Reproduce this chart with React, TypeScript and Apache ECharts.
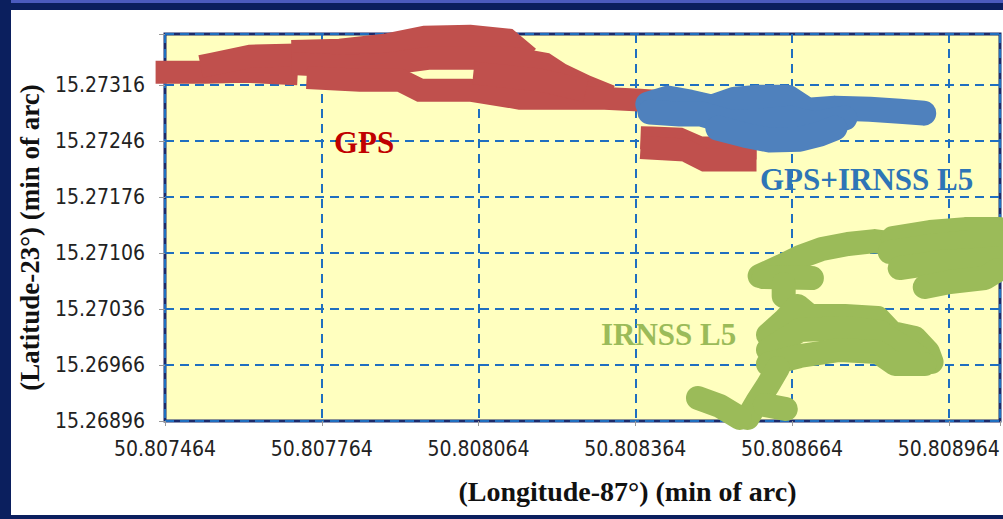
import React, { useEffect, useRef } from 'react';
import * as echarts from 'echarts';

const LON_BASE = 50.807464;
const LAT_BASE = 15.26896;

const xTickLabels = ['50.807464', '50.807764', '50.808064', '50.808364', '50.808664', '50.808964'];
const yTickLabels = ['15.26896', '15.26966', '15.27036', '15.27106', '15.27176', '15.27246', '15.27316'];

// GPS track passes [longitude-87° (min), latitude-23° (min)]
const gpsTrack1 = [[50.807468, 15.273323], [50.807541, 15.273323], [50.807617, 15.273335], [50.807696, 15.27331]];
const gpsTrack2 = [[50.807554, 15.273423], [50.807627, 15.273523], [50.807696, 15.273535]];
const gpsTrack3 = [[50.807728, 15.273585], [50.807799, 15.273598], [50.807885, 15.27366], [50.807961, 15.27376], [50.808048, 15.273773], [50.80812, 15.273723], [50.808143, 15.273598]];
const gpsTrack4 = [[50.807728, 15.273423], [50.807808, 15.273398], [50.807885, 15.273423], [50.807971, 15.273498], [50.808067, 15.273498], [50.808128, 15.273498], [50.808191, 15.273423], [50.80822, 15.273298], [50.808268, 15.273148], [50.808296, 15.273073]];
const gpsTrack5 = [[50.807757, 15.273248], [50.807837, 15.273223], [50.807914, 15.273223], [50.807952, 15.273098], [50.808048, 15.273098], [50.808143, 15.272998], [50.80822, 15.272998], [50.808296, 15.272998], [50.808373, 15.272973], [50.808488, 15.272923], [50.808526, 15.272848]];
const gpsTrack6 = [[50.808076, 15.273298], [50.808182, 15.273223], [50.808248, 15.273123]];
const gpsTrack7 = [[50.808396, 15.272498], [50.808449, 15.272485], [50.808488, 15.272373], [50.808574, 15.272373]];
const gpsTrack8 = [[50.808396, 15.272373], [50.808459, 15.272348], [50.808497, 15.272223], [50.808574, 15.272223]];

// GPS+IRNSS L5 track passes
const comboTrack1 = [[50.808388, 15.272923], [50.808426, 15.272998], [50.808469, 15.272948], [50.808511, 15.272885], [50.808555, 15.272985], [50.808602, 15.27301], [50.808656, 15.27301], [50.808694, 15.272848], [50.808746, 15.272873], [50.808813, 15.27286], [50.80887, 15.272835], [50.808916, 15.27281]];
const comboTrack2 = [[50.808392, 15.272823], [50.808449, 15.272798], [50.808491, 15.272798], [50.808545, 15.272698], [50.808602, 15.27271], [50.80866, 15.272748], [50.808708, 15.272673], [50.808765, 15.272748]];
const comboTrack3 = [[50.808522, 15.272623], [50.808574, 15.272535], [50.808621, 15.272473], [50.808679, 15.272485], [50.808717, 15.272548], [50.808746, 15.272623]];

// IRNSS L5 track passes
const irnssTrack1 = [[50.808602, 15.270773], [50.808644, 15.270898], [50.808679, 15.27101], [50.808721, 15.27111], [50.808771, 15.271173], [50.808822, 15.27121], [50.808866, 15.271173], [50.808889, 15.271073]];
const irnssTrack2 = [[50.80861, 15.27076], [50.808702, 15.270748]];
const irnssTrack3 = [[50.808648, 15.270673], [50.808648, 15.270523]];
const irnssTrack4 = [[50.808857, 15.271248], [50.808928, 15.271323], [50.808995, 15.27136], [50.809062, 15.27136]];
const irnssTrack5 = [[50.808851, 15.271073], [50.808928, 15.271148], [50.809004, 15.271198], [50.809062, 15.271198]];
const irnssTrack6 = [[50.80887, 15.270873], [50.808947, 15.270948], [50.809014, 15.270973], [50.809062, 15.270998]];
const irnssTrack7 = [[50.808918, 15.270635], [50.808966, 15.270698], [50.809033, 15.270748], [50.809058, 15.270848]];
const irnssTrack8 = [[50.808618, 15.270035], [50.80865, 15.270223], [50.808675, 15.270398], [50.808698, 15.270273], [50.808765, 15.270273], [50.808828, 15.270248], [50.808855, 15.27006], [50.808899, 15.269998], [50.808924, 15.269823], [50.808931, 15.269698]];
const irnssTrack9 = [[50.808618, 15.269848], [50.808679, 15.270098], [50.808765, 15.270123], [50.808832, 15.270073], [50.80887, 15.26991], [50.808909, 15.269748]];
const irnssTrack10 = [[50.808618, 15.269673], [50.808679, 15.269773], [50.808755, 15.269848], [50.808828, 15.269823], [50.808861, 15.269673], [50.808918, 15.269673]];
const irnssTrack11 = [[50.808637, 15.269623], [50.808618, 15.26941], [50.808597, 15.269198], [50.808579, 15.268998]];
const irnssTrack12 = [[50.808484, 15.269248], [50.808526, 15.269148], [50.808564, 15.268998]];
const irnssTrack13 = [[50.808612, 15.26916], [50.808652, 15.26911]];

const gpsTracks = [gpsTrack1, gpsTrack2, gpsTrack3, gpsTrack4, gpsTrack5, gpsTrack6, gpsTrack7, gpsTrack8];
const comboTracks = [comboTrack1, comboTrack2, comboTrack3];
const irnssTracks = [irnssTrack1, irnssTrack2, irnssTrack3, irnssTrack4, irnssTrack5, irnssTrack6, irnssTrack7, irnssTrack8, irnssTrack9, irnssTrack10, irnssTrack11, irnssTrack12, irnssTrack13];

const toXY = (pts: number[][]) => pts.map(([lon, lat]) => [(lon - LON_BASE) * 1e6, (lat - LAT_BASE) * 1e5]);

const mkSeries = (name: string, pts: number[][], color: string, cap: string, join: string, width: number) => ({
  type: 'line',
  name,
  data: toXY(pts),
  symbol: 'none',
  showSymbol: false,
  clip: false,
  silent: true,
  lineStyle: { color, width, cap, join },
});

const tickFmt = (labels: string[], step: number) => (v: number) => {
  const i = Math.round(v / step);
  if (Math.abs(v - i * step) < 1e-6 && i >= 0 && i < labels.length) return labels[i];
  return '';
};

export default function App() {
  const ref = useRef<HTMLDivElement>(null);
  useEffect(() => {
    if (!ref.current) return;
    const chart = echarts.init(ref.current, undefined, { renderer: 'svg' });
    const navy = '#0B1F5E';
    const serif = "'Liberation Serif', 'Times New Roman', serif";
    const tickFont = "'Liberation Sans Narrow', 'DejaVu Sans Condensed', sans-serif";
    chart.setOption({
      animation: false,
      backgroundColor: '#ffffff',
      grid: {
        left: 165, right: 3, top: 34, bottom: 98,
        show: true, backgroundColor: '#FFFFBF', borderColor: '#1B2A6B', borderWidth: 3,
      },
      xAxis: {
        type: 'value', min: 0, max: 1598, interval: 300,
        name: '(Longitude-87°) (min of arc)', nameLocation: 'middle', nameGap: 56,
        nameTextStyle: { fontFamily: serif, fontWeight: 'bold', fontSize: 28, color: '#111', padding: [0, 0, 0, 90] },
        axisLine: { show: false },
        axisTick: { show: true, length: 5, lineStyle: { color: '#999' } },
        axisLabel: { formatter: tickFmt(xTickLabels, 300), fontFamily: tickFont, fontSize: 21, color: '#222', margin: 17 },
        splitLine: { show: true, lineStyle: { color: '#1F6FC0', width: 2, type: [9, 6] } },
      },
      yAxis: {
        type: 'value', min: 0, max: 484, interval: 70,
        name: '(Latitude-23°) (min of arc)', nameLocation: 'middle', nameGap: 102, nameRotate: 90,
        nameTextStyle: { fontFamily: serif, fontWeight: 'bold', fontSize: 27, color: '#111', padding: [0, 20, 0, 0] },
        axisLine: { show: false },
        axisTick: { show: true, length: 6, lineStyle: { color: '#999' } },
        axisLabel: { formatter: tickFmt(yTickLabels, 70), fontFamily: tickFont, fontSize: 21, color: '#222', margin: 20 },
        splitLine: { show: true, lineStyle: { color: '#1F6FC0', width: 2, type: [9, 6] } },
      },
      graphic: [
        { type: 'rect', shape: { x: 0, y: 0, width: 1003, height: 10 }, style: { fill: navy }, silent: true },
        { type: 'rect', shape: { x: 0, y: 0, width: 1003, height: 3 }, style: { fill: '#4B5BBE' }, silent: true },
        { type: 'rect', shape: { x: 0, y: 0, width: 11, height: 519 }, style: { fill: navy }, silent: true },
        { type: 'rect', shape: { x: 0, y: 515, width: 1003, height: 4 }, style: { fill: navy }, silent: true },
        { type: 'text', left: 334, top: 127, z: 100, style: { text: 'GPS', fill: '#C00000', font: `bold 31px ${serif}` } },
        { type: 'text', left: 760, top: 164, z: 100, style: { text: 'GPS+IRNSS L5', fill: '#2E75B6', font: `bold 31px ${serif}` } },
        { type: 'text', left: 601, top: 319, z: 100, style: { text: 'IRNSS L5', fill: '#9BBB59', font: `bold 31px ${serif}` } },
      ],
      series: [
        ...gpsTracks.map((t) => mkSeries('GPS', t, '#C0504D', 'square', 'miter', 23)),
        ...comboTracks.map((t) => mkSeries('GPS+IRNSS L5', t, '#4F81BD', 'round', 'round', 25)),
        ...irnssTracks.map((t) => mkSeries('IRNSS L5', t, '#9BBB59', 'round', 'round', 24)),
      ],
    });
    return () => chart.dispose();
  }, []);
  return <div ref={ref} style={{ position: 'fixed', left: 0, top: 0, width: 1003, height: 519 }} />;
}
